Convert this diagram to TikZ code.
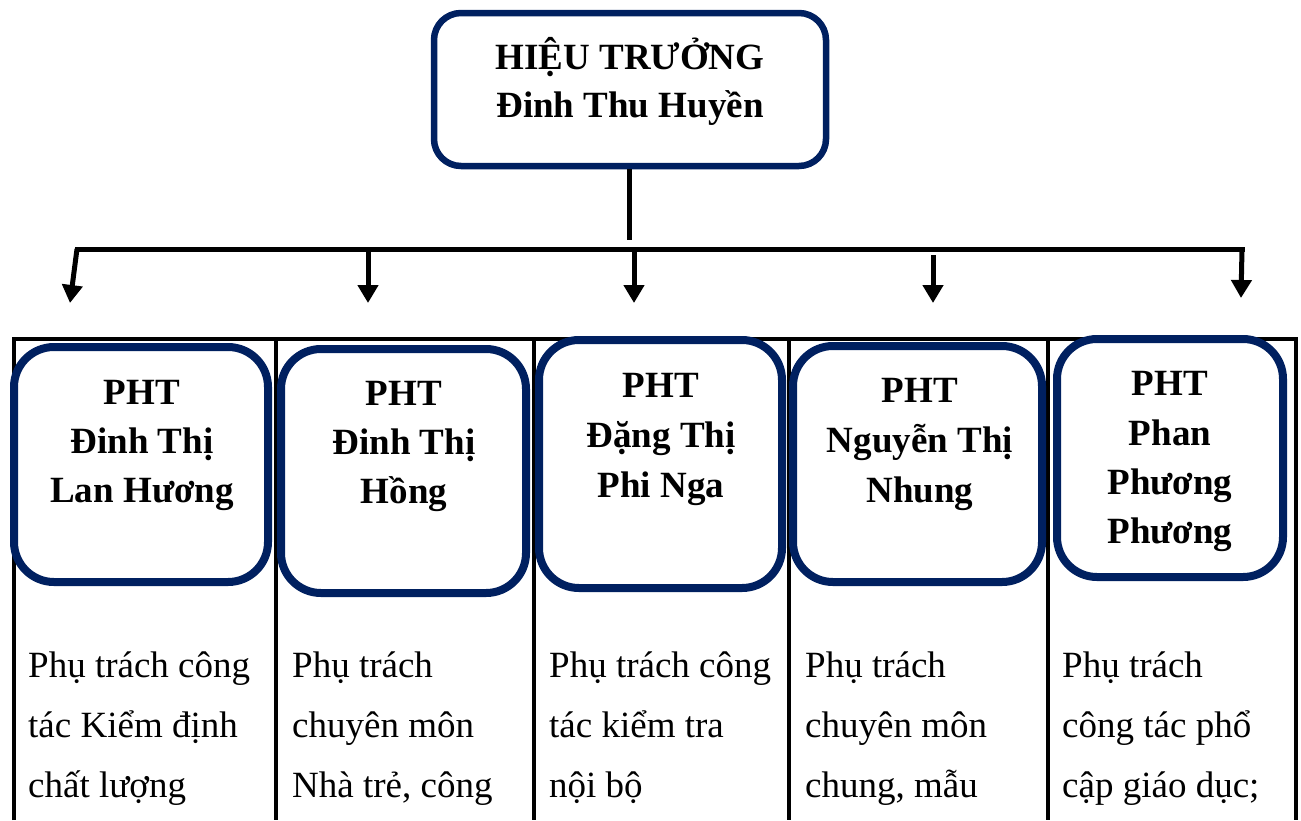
\documentclass[tikz,border=0pt]{standalone}
\usepackage{fontspec}
\setmainfont{Liberation Serif}
\usetikzlibrary{arrows.meta}
\definecolor{navy}{RGB}{0,32,96}
\begin{document}
\begin{tikzpicture}[x=1pt,y=-1pt,
  box/.style={draw=navy, fill=white, line width=8pt, rounded corners=40pt, inner sep=0pt, rectangle},
  headbox/.style={draw=navy, fill=white, line width=6.5pt, rounded corners=27pt, inner sep=0pt, rectangle},
  title/.style={font=\fontsize{37}{44}\selectfont\bfseries, inner sep=0pt, anchor=base},
  body/.style={font=\fontsize{37}{44}\selectfont, inner sep=0pt, anchor=base west},
  conn/.style={line width=5pt},
  arr/.style={line width=5pt, -{Triangle[width=20pt,length=18pt]}},
  grid/.style={line width=4.5pt, line join=miter}]
\useasboundingbox (0,0) rectangle (1301,820);

% table
\draw[grid] (14,820) -- (14,339) -- (1296,339) -- (1296,820);
\foreach \x in {276,534,789,1048} \draw[grid] (\x,339) -- (\x,820);

% head box
\node[headbox, minimum width=392pt, minimum height=153pt] (head) at (630,89.5) {};
\node[title] (h1) at (630,69) {HIỆU TRƯỞNG};
\node[title] (h2) at (630,117) {Đinh Thu Huyền};

% connectors
\coordinate (stem) at (629,240);
\draw[conn] (head.south -| stem) -- (stem);
\coordinate (a1s) at (77,249);
\coordinate (a5s) at (1242,249);
\draw[conn, line cap=rect] (a1s) -- (a5s);
\coordinate (a1e) at (70,303);
\coordinate (a2s) at (368,249);
\coordinate (a2e) at (368,303);
\coordinate (a3s) at (634,249);
\coordinate (a3e) at (634,303);
\coordinate (a4s) at (933,255);
\coordinate (a4e) at (933,303);
\coordinate (a5e) at (1241,298);
\draw[arr] (a1s) -- (a1e);
\draw[arr] (a2s) -- (a2e);
\draw[arr] (a3s) -- (a3e);
\draw[arr] (a4s) -- (a4e);
\draw[arr] (a5s) -- (a5e);

% boxes
\node[box, minimum width=254pt, minimum height=235pt] (b1) at (141,464.5) {};
\node[box, minimum width=245pt, minimum height=244pt] (b2) at (403.5,471) {};
\node[box, minimum width=243pt, minimum height=248pt] (b3) at (660.5,464) {};
\node[box, minimum width=249pt, minimum height=236pt] (b4) at (917.5,464) {};
\node[box, minimum width=226pt, minimum height=238pt] (b5) at (1170,458) {};

\node[title] (t11) at (142,404) {PHT};
\node[title] (t12) at (142,453) {Đinh Thị};
\node[title] (t13) at (142,502) {Lan Hương};

\node[title] (t21) at (404,405) {PHT};
\node[title] (t22) at (404,454) {Đinh Thị};
\node[title] (t23) at (404,503) {Hồng};

\node[title] (t31) at (661,397) {PHT};
\node[title] (t32) at (661,447) {Đặng Thị};
\node[title] (t33) at (661,497) {Phi Nga};

\node[title] (t41) at (920,402) {PHT};
\node[title] (t42) at (920,452) {Nguyễn Thị};
\node[title] (t43) at (920,502) {Nhung};

\node[title] (t51) at (1170,395) {PHT};
\node[title] (t52) at (1170,445) {Phan};
\node[title] (t53) at (1170,494) {Phương};
\node[title] (t54) at (1170,543) {Phương};

% body text
\node[body] (c11) at (28,677) {Phụ trách công};
\node[body] (c12) at (28,737) {tác Kiểm định};
\node[body] (c13) at (28,797) {chất lượng};

\node[body] (c21) at (292,677) {Phụ trách};
\node[body] (c22) at (292,737) {chuyên môn};
\node[body] (c23) at (292,797) {Nhà trẻ, công};

\node[body] (c31) at (549,677) {Phụ trách công};
\node[body] (c32) at (549,737) {tác kiểm tra};
\node[body] (c33) at (549,797) {nội bộ};

\node[body] (c41) at (805,677) {Phụ trách};
\node[body] (c42) at (805,737) {chuyên môn};
\node[body] (c43) at (805,797) {chung, mẫu};

\node[body] (c51) at (1062,677) {Phụ trách};
\node[body] (c52) at (1062,737) {công tác phổ};
\node[body] (c53) at (1062,797) {cập giáo dục;};
\end{tikzpicture}
\end{document}
